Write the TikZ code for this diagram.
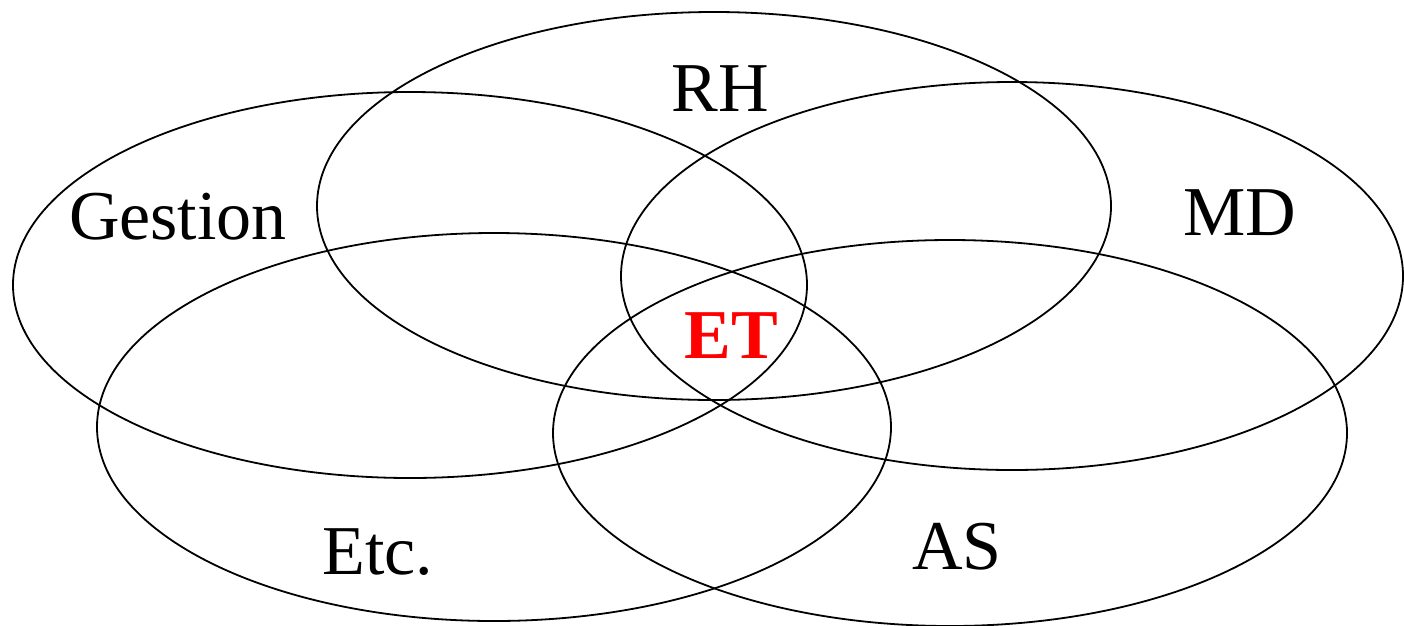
\documentclass[tikz,border=0pt]{standalone}
\usepackage{fontspec}
\setmainfont{Liberation Serif}
\begin{document}
\begin{tikzpicture}[x=1pt,y=-1pt,
  venn/.style={draw=black,line width=1.8pt},
  lbl/.style={font=\fontsize{70}{74}\selectfont,inner sep=0pt}]
\useasboundingbox (0,0) rectangle (1404,625);
\draw[venn] (410,285) ellipse [x radius=397pt, y radius=193pt];
\draw[venn] (714,206) ellipse [x radius=397pt, y radius=194pt];
\draw[venn] (1012,276) ellipse [x radius=391pt, y radius=194pt];
\draw[venn] (494,427) ellipse [x radius=397pt, y radius=194pt];
\draw[venn] (950,433) ellipse [x radius=397pt, y radius=193pt];
\node[lbl] (rh) at (720,89) {RH};
\node[lbl] (gestion) at (178,217) {Gestion};
\node[lbl] (md) at (1240,213) {MD};
\node[lbl,text=red,font=\fontsize{70}{74}\selectfont\bfseries] (et) at (731,336) {ET};
\node[lbl] (etc) at (378,552) {Etc.};
\node[lbl] (as) at (957,547) {AS};
\end{tikzpicture}
\end{document}
